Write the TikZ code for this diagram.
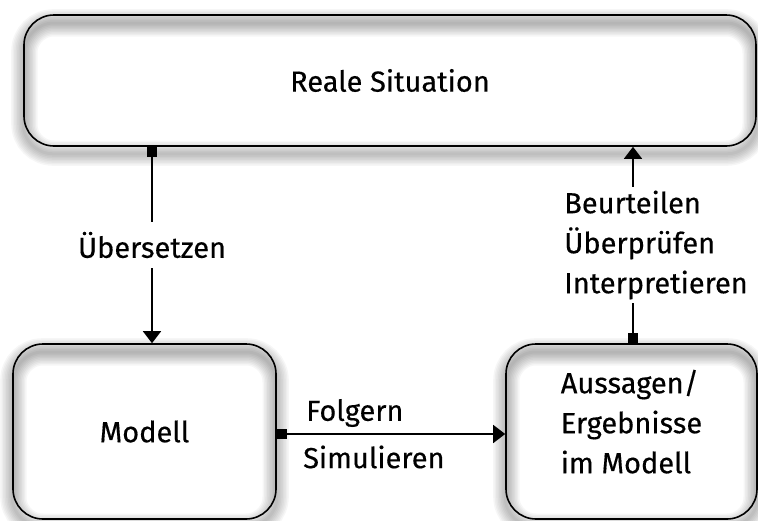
\documentclass[tikz,border=0pt]{standalone}
\usepackage{fontspec}
\setmainfont{Fira Sans}[FakeBold=0.4]
\usetikzlibrary{arrows.meta,backgrounds}
\newcommand\diafont{\fontsize{29}{40}\selectfont}
\tikzset{
  box/.style={draw, line width=1.6pt, fill=white, rounded corners=30pt,
    font=\diafont, inner sep=0pt,
    path picture={
      \foreach \w in {3,6,...,27}
        \draw[black, opacity=0.035, line width=\w pt, rounded corners=30pt]
          ([yshift=-8pt]path picture bounding box.south west) rectangle
          ([yshift=-8pt]path picture bounding box.north east);
    }},
  conn/.style={line width=1.6pt,
    {Square[length=10pt,width=10pt]}-{Triangle[length=12pt,width=18pt]}},
  lbl/.style={font=\diafont, inner sep=4pt},
}
\begin{document}
\begin{tikzpicture}[x=1pt,y=-1pt]
    \useasboundingbox (0,0) rectangle (758,520);

    % boxes
    \node[box, minimum width=732pt, minimum height=131pt] (reale) at (390,80.5) {Reale Situation};
    \node[box, minimum width=263pt, minimum height=175pt] (modell) at (144.5,431.5) {Modell};
    \node[box, align=left, text depth=20pt, minimum width=251pt, minimum height=175pt] (aussagen) at (631.5,431.5)
        {Aussagen/\\Ergebnisse\\im Modell};

    % soft shadow below the boxes
    \begin{pgfonlayer}{background}
        \foreach \n in {reale,modell,aussagen}
            \foreach \w in {3,6,...,24}
                \draw[black, opacity=0.035, line width=\w pt, rounded corners=30pt]
                    ([yshift=-7pt]\n.south west) rectangle ([yshift=-7pt]\n.north east);
    \end{pgfonlayer}

    % connectors
    \draw[conn] ([xshift=7.5pt]modell.north |- reale.south) -- ([xshift=7.5pt]modell.north)
        node[lbl, midway, fill=white, inner ysep=10pt] (uebersetzen) {Übersetzen};
    \draw[conn] ([xshift=1.5pt]aussagen.north) -- ([xshift=1.5pt]aussagen.north |- reale.south)
        node[lbl, midway, fill=white, align=left, xshift=23pt] (beurteilen)
        {Beurteilen\\Überprüfen\\Interpretieren};
    \draw[conn] ([yshift=-2.5pt]modell.east) -- ([yshift=-2.5pt]modell.east -| aussagen.west);
    \node[lbl, anchor=west] (folgern) at (302,413) {Folgern};
    \node[lbl, anchor=west] (simulieren) at (299,457) {Simulieren};
\end{tikzpicture}
\end{document}
